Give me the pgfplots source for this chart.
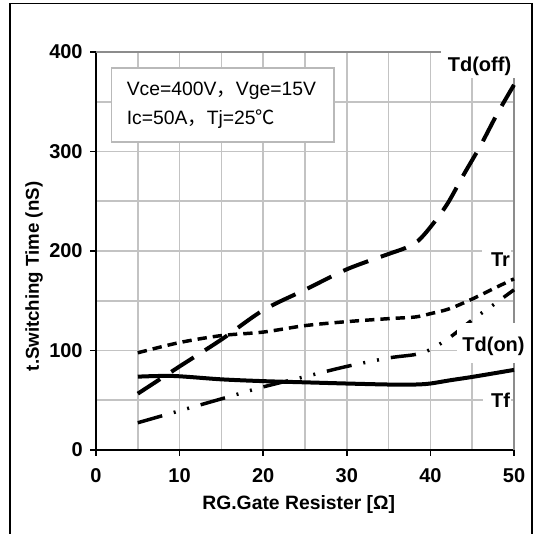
\documentclass[border=0pt]{standalone}
\usepackage{pgfplots}
\pgfplotsset{compat=1.18}
\usepackage{fontspec}
\setmainfont{Liberation Sans}
\newfontfamily\cjk{Noto Sans CJK SC}
\definecolor{gridc}{RGB}{195,195,195}
\definecolor{boxc}{RGB}{185,185,185}
\definecolor{borderc}{RGB}{140,140,140}
\newcommand{\tl}{\fontsize{15}{18}\selectfont\bfseries}
\begin{document}
\begin{tikzpicture}[x=0.75pt,y=0.75pt]
\useasboundingbox (0,0) rectangle (542,534);
\begin{axis}[
  at={(72pt,63pt)}, anchor=south west,
  scale only axis, width=313.5pt, height=298.5pt,
  xmin=0,xmax=50,ymin=0,ymax=400,
  axis x line*=bottom, axis y line*=left,
  axis line style={black,line width=1.1pt},
  xtick={0,10,20,30,40,50}, ytick={0,100,200,300,400},
  xticklabels={{\tl 0},{\tl 10},{\tl 20},{\tl 30},{\tl 40},{\tl 50}},
  yticklabels={{\tl 0},{\tl 100},{\tl 200},{\tl 300},{\tl 400}},
  minor xtick={5,15,...,45}, minor ytick={50,150,...,350},
  grid=both,
  major grid style={gridc,line width=1.2pt},
  minor grid style={gridc,line width=1.2pt},
  tick align=outside, major tick length=4.5pt, minor tick length=0pt,
  tick style={black,line width=1.1pt},
  every tick label/.append style={font=\tl},
  xticklabel style={yshift=-6pt},
  yticklabel style={xshift=-2pt},
  /pgf/number format/assume math mode=true,
  xlabel={RG.Gate Resister [Ω]}, ylabel={t.Switching Time (nS)},
  xlabel style={font=\fontsize{14.5}{17}\selectfont\bfseries, at={(axis description cs:0.485,-0.136)}, anchor=center},
  ylabel style={font=\fontsize{14}{17}\selectfont\bfseries, at={(axis description cs:-0.148,0.436)}, anchor=center},
  clip=false,
]
\draw[borderc,line width=1.1pt] (axis cs:0,400) -- (axis cs:50,400) -- (axis cs:50,0);
% Td(off)
\addplot[black,line width=3pt,dash pattern=on 20pt off 10pt,smooth] coordinates {
(5,56.6) (10,84) (15,111) (20,140.5) (25,161) (30,181.6) (35,197) (37,203) (38.5,210) (40,224) (42,247) (44,277) (46,306) (48,338) (50,367)};
% Tr
\addplot[black,line width=2.6pt,dash pattern=on 7pt off 4.5pt,smooth] coordinates {
(5,97.7) (10,108) (15,115) (20,118.5) (25,125) (30,129) (35,132) (38.2,133.7) (40,137) (42.3,142) (45.2,152.5) (47.5,162) (50,172)};
% Td(on)
\addplot[black,line width=2.6pt,dash pattern=on 19pt off 9pt on 1.5pt off 9pt on 1.5pt off 9pt,smooth] coordinates {
(5,27.4) (10,39.4) (15,51.4) (20,63.4) (25,73.7) (30,84) (35,92.5) (38.2,96) (40,101) (42.3,113) (45.2,132) (47.5,145.7) (50,161)};
% Tf
\addplot[black,line width=3pt,smooth] coordinates {
(5,73.7) (9.2,74.4) (15,71) (20,69.2) (25,68) (30,66.8) (35,65.8) (38.2,65.8) (40,66.8) (42.3,70) (45.2,73.7) (50,80.5)};
\end{axis}
% label backgrounds and labels
\fill[white] (441,534-78) rectangle (522,534-30);
\node[font=\tl] at (479.5,534-66) {Td(off)};
\fill[white] (482,534-275) rectangle (511,534-245);
\node[font=\tl] at (500.5,534-260) {Tr};
\fill[white] (457,534-363) rectangle (530,534-323);
\node[font=\tl] at (493.5,534-346) {Td(on)};
\fill[white] (483,534-415) rectangle (511,534-385);
\node[font=\tl] at (500.5,534-400.5) {Tf};
% condition box
\draw[boxc,line width=1.1pt,fill=white] (111.5,534-142) rectangle (334,534-68);
\node[font=\fontsize{14.5}{17}\selectfont,anchor=base west,inner sep=0pt] at (126.5,534-95.7) {Vce=400V{\cjk ，}Vge=15V};
\node[font=\fontsize{14.5}{17}\selectfont,anchor=base west,inner sep=0pt] at (126.5,534-124.5) {Ic=50A{\cjk ，}Tj=25{\cjk ℃}};
% outer frame
\draw[black,line width=1.2pt] (10,-5) -- (10,530.5) -- (532,530.5) -- (532,-5);
\end{tikzpicture}
\end{document}
